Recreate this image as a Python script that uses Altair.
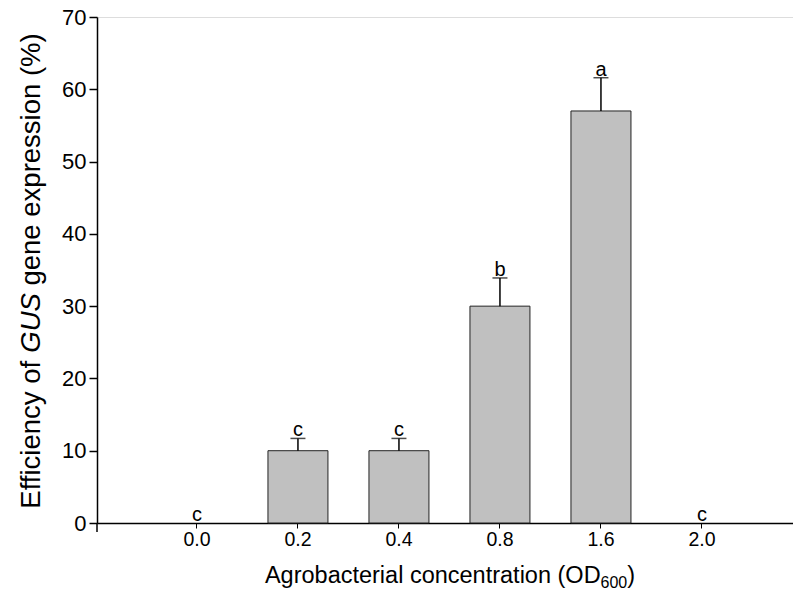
import altair as alt
import pandas as pd

conc = ["0.0", "0.2", "0.4", "0.8", "1.6", "2.0"]
eff = [0, 10, 10, 30, 57, 0]
err = [0, 1.7, 1.7, 3.9, 4.6, 0]
letters = ["c", "c", "c", "b", "a", "c"]
y_ticks = [0, 10, 20, 30, 40, 50, 60, 70]

df = pd.DataFrame({"conc": conc, "eff": eff, "err": err, "letter": letters})
df["top"] = df["eff"] + df["err"]

FONT = "Liberation Sans"
W, H = 696, 506

xs = alt.Scale(domain=conc, paddingInner=0.406, paddingOuter=0.6485, align=0.534)
ys = alt.Scale(domain=[0, 70], nice=False, zero=True)

base = alt.Chart(df)
nonzero = alt.datum.eff > 0

bars = base.mark_bar(color="#c0c0c0", stroke="#222222", strokeWidth=1).encode(
    x=alt.X("conc:N", scale=xs, sort=conc,
            axis=alt.Axis(title=None, labelAngle=0, tickSize=5, labelPadding=2,
                          labelFontSize=19.5, labelFont=FONT, labelColor="black",
                          domainColor="black", domainWidth=1.5, tickColor="black",
                          tickWidth=1)),
    y=alt.Y("eff:Q", scale=ys,
            axis=alt.Axis(title=None, values=y_ticks, tickSize=8, labelPadding=3,
                          labelFontSize=22, labelFont=FONT, labelColor="black",
                          domainColor="black", domainWidth=1.5, tickColor="black",
                          tickWidth=1.5, grid=False)),
    opacity=alt.condition(nonzero, alt.value(1), alt.value(0)),
)

err_line = base.transform_filter(nonzero).mark_rule(color="black", strokeWidth=1.5).encode(
    x=alt.X("conc:N", scale=xs, sort=conc), y="eff:Q", y2="top:Q")

caps = base.transform_filter(nonzero).mark_tick(
    color="black", thickness=1.5, size=15, orient="horizontal").encode(
    x=alt.X("conc:N", scale=xs, sort=conc), y=alt.Y("top:Q", scale=ys))

labels = base.mark_text(font=FONT, fontSize=20, baseline="alphabetic", dy=-2,
                        color="black").encode(
    x=alt.X("conc:N", scale=xs, sort=conc), y=alt.Y("top:Q", scale=ys),
    text="letter:N")

# axis extension below the x axis
yext = alt.Chart(pd.DataFrame({"a": [0]})).mark_rule(color="black", strokeWidth=1.5).encode(
    x=alt.value(0), y=alt.value(H), y2=alt.value(H + 9))

# y title in three pieces (GUS in italics)
YF = 27.5
ycx = -65
yc = 271 - 17
parts_em = [5.669, 2.167, 9.448]
SP = 0.278
total = sum(parts_em) * YF
bottom = yc + total / 2
y_gus_lo = bottom - parts_em[0] * YF
y_gus_hi = y_gus_lo - parts_em[1] * YF
y_gene = y_gus_hi - SP * YF

t1 = alt.Chart(pd.DataFrame({"t": ["Efficiency of"]})).mark_text(
    font=FONT, fontSize=YF, angle=270, align="left", baseline="middle", color="black").encode(
    x=alt.value(ycx), y=alt.value(bottom), text="t:N")
t2 = alt.Chart(pd.DataFrame({"t": ["GUS"]})).mark_text(
    font=FONT, fontSize=YF, fontStyle="italic", angle=270, align="left", baseline="middle",
    color="black").encode(x=alt.value(ycx), y=alt.value(y_gus_lo), text="t:N")
t3 = alt.Chart(pd.DataFrame({"t": ["gene expression (%)"]})).mark_text(
    font=FONT, fontSize=YF, angle=270, align="left", baseline="middle", color="black").encode(
    x=alt.value(ycx), y=alt.value(y_gene), text="t:N")

# x title with subscript
XF = 23.5
SF = 16
x_main = "Agrobacterial concentration (OD"
main_w = 14.283 * XF
sub_w = 1.668 * SF
close_w = 0.333 * XF
tot_w = main_w + sub_w + close_w
x0 = 450 - 97 - tot_w / 2
ybase = 583 - 17
x1 = alt.Chart(pd.DataFrame({"t": [x_main]})).mark_text(
    font=FONT, fontSize=XF, align="left", baseline="alphabetic", color="black").encode(
    x=alt.value(x0), y=alt.value(ybase), text="t:N")
x2 = alt.Chart(pd.DataFrame({"t": ["600"]})).mark_text(
    font=FONT, fontSize=SF, align="left", baseline="alphabetic", color="black").encode(
    x=alt.value(x0 + main_w), y=alt.value(ybase + 5), text="t:N")
x3 = alt.Chart(pd.DataFrame({"t": [")"]})).mark_text(
    font=FONT, fontSize=XF, align="left", baseline="alphabetic", color="black").encode(
    x=alt.value(x0 + main_w + sub_w), y=alt.value(ybase), text="t:N")

chart = alt.layer(bars, err_line, caps, labels, yext, t1, t2, t3, x1, x2, x3).properties(
    width=W, height=H,
    autosize=alt.AutoSizeParams(type="none"),
    padding={"left": 97, "top": 17, "right": 0, "bottom": 68},
).configure_view(stroke="transparent").configure(background="white")

chart.save("out.html", embed_options={"renderer": "svg", "actions": False})
